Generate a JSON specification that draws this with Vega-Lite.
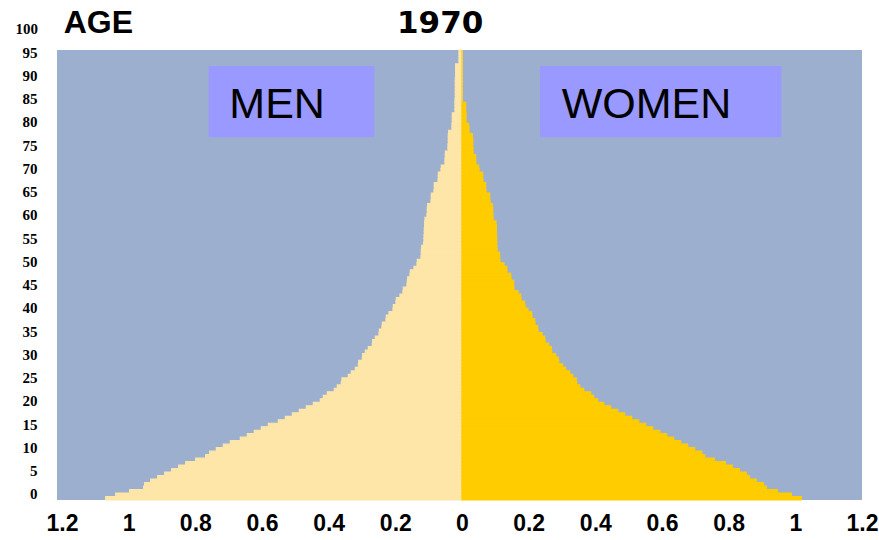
{
  "$schema": "https://vega.github.io/schema/vega-lite/v6.json",
  "width": 805,
  "height": 450,
  "autosize": {"type": "none"},
  "padding": {"left": 57, "top": 50, "right": 17, "bottom": 40},
  "background": "white",
  "config": {"view": {"fill": "#9CAFCF", "stroke": null}},
  "datasets": {
    "pyramid": [
      {"row":0,"sex":"Men","value":-1.069},{"row":1,"sex":"Men","value":-1.039},{"row":2,"sex":"Men","value":-0.997},{"row":3,"sex":"Men","value":-0.955},{"row":4,"sex":"Men","value":-0.952},
      {"row":5,"sex":"Men","value":-0.934},{"row":6,"sex":"Men","value":-0.913},{"row":7,"sex":"Men","value":-0.892},{"row":8,"sex":"Men","value":-0.871},{"row":9,"sex":"Men","value":-0.850},
      {"row":10,"sex":"Men","value":-0.829},{"row":11,"sex":"Men","value":-0.799},{"row":12,"sex":"Men","value":-0.769},{"row":13,"sex":"Men","value":-0.757},{"row":14,"sex":"Men","value":-0.737},
      {"row":15,"sex":"Men","value":-0.716},{"row":16,"sex":"Men","value":-0.695},{"row":17,"sex":"Men","value":-0.665},{"row":18,"sex":"Men","value":-0.644},{"row":19,"sex":"Men","value":-0.623},
      {"row":20,"sex":"Men","value":-0.602},{"row":21,"sex":"Men","value":-0.581},{"row":22,"sex":"Men","value":-0.551},{"row":23,"sex":"Men","value":-0.530},{"row":24,"sex":"Men","value":-0.509},
      {"row":25,"sex":"Men","value":-0.488},{"row":26,"sex":"Men","value":-0.467},{"row":27,"sex":"Men","value":-0.446},{"row":28,"sex":"Men","value":-0.425},{"row":29,"sex":"Men","value":-0.416},
      {"row":30,"sex":"Men","value":-0.404},{"row":31,"sex":"Men","value":-0.383},{"row":32,"sex":"Men","value":-0.374},{"row":33,"sex":"Men","value":-0.362},{"row":34,"sex":"Men","value":-0.360},
      {"row":35,"sex":"Men","value":-0.341},{"row":36,"sex":"Men","value":-0.332},{"row":37,"sex":"Men","value":-0.320},{"row":38,"sex":"Men","value":-0.311},{"row":39,"sex":"Men","value":-0.310},
      {"row":40,"sex":"Men","value":-0.299},{"row":41,"sex":"Men","value":-0.298},{"row":42,"sex":"Men","value":-0.290},{"row":43,"sex":"Men","value":-0.281},{"row":44,"sex":"Men","value":-0.269},
      {"row":45,"sex":"Men","value":-0.268},{"row":46,"sex":"Men","value":-0.260},{"row":47,"sex":"Men","value":-0.249},{"row":48,"sex":"Men","value":-0.248},{"row":49,"sex":"Men","value":-0.240},
      {"row":50,"sex":"Men","value":-0.239},{"row":51,"sex":"Men","value":-0.228},{"row":52,"sex":"Men","value":-0.227},{"row":53,"sex":"Men","value":-0.219},{"row":54,"sex":"Men","value":-0.207},
      {"row":55,"sex":"Men","value":-0.206},{"row":56,"sex":"Men","value":-0.198},{"row":57,"sex":"Men","value":-0.197},{"row":58,"sex":"Men","value":-0.186},{"row":59,"sex":"Men","value":-0.177},
      {"row":60,"sex":"Men","value":-0.176},{"row":61,"sex":"Men","value":-0.165},{"row":62,"sex":"Men","value":-0.164},{"row":63,"sex":"Men","value":-0.163},{"row":64,"sex":"Men","value":-0.156},
      {"row":65,"sex":"Men","value":-0.155},{"row":66,"sex":"Men","value":-0.144},{"row":67,"sex":"Men","value":-0.135},{"row":68,"sex":"Men","value":-0.134},{"row":69,"sex":"Men","value":-0.123},
      {"row":70,"sex":"Men","value":-0.122},{"row":71,"sex":"Men","value":-0.122},{"row":72,"sex":"Men","value":-0.121},{"row":73,"sex":"Men","value":-0.115},{"row":74,"sex":"Men","value":-0.114},
      {"row":75,"sex":"Men","value":-0.114},{"row":76,"sex":"Men","value":-0.113},{"row":77,"sex":"Men","value":-0.113},{"row":78,"sex":"Men","value":-0.112},{"row":79,"sex":"Men","value":-0.112},
      {"row":80,"sex":"Men","value":-0.111},{"row":81,"sex":"Men","value":-0.105},{"row":82,"sex":"Men","value":-0.104},{"row":83,"sex":"Men","value":-0.104},{"row":84,"sex":"Men","value":-0.103},
      {"row":85,"sex":"Men","value":-0.093},{"row":86,"sex":"Men","value":-0.092},{"row":87,"sex":"Men","value":-0.092},{"row":88,"sex":"Men","value":-0.084},{"row":89,"sex":"Men","value":-0.083},
      {"row":90,"sex":"Men","value":-0.083},{"row":91,"sex":"Men","value":-0.072},{"row":92,"sex":"Men","value":-0.071},{"row":93,"sex":"Men","value":-0.071},{"row":94,"sex":"Men","value":-0.063},
      {"row":95,"sex":"Men","value":-0.062},{"row":96,"sex":"Men","value":-0.051},{"row":97,"sex":"Men","value":-0.051},{"row":98,"sex":"Men","value":-0.050},{"row":99,"sex":"Men","value":-0.050},
      {"row":100,"sex":"Men","value":-0.042},{"row":101,"sex":"Men","value":-0.042},{"row":102,"sex":"Men","value":-0.041},{"row":103,"sex":"Men","value":-0.041},{"row":104,"sex":"Men","value":-0.041},
      {"row":105,"sex":"Men","value":-0.040},{"row":106,"sex":"Men","value":-0.030},{"row":107,"sex":"Men","value":-0.030},{"row":108,"sex":"Men","value":-0.029},{"row":109,"sex":"Men","value":-0.029},
      {"row":110,"sex":"Men","value":-0.029},{"row":111,"sex":"Men","value":-0.021},{"row":112,"sex":"Men","value":-0.021},{"row":113,"sex":"Men","value":-0.021},{"row":114,"sex":"Men","value":-0.021},
      {"row":115,"sex":"Men","value":-0.020},{"row":116,"sex":"Men","value":-0.020},{"row":117,"sex":"Men","value":-0.020},{"row":118,"sex":"Men","value":-0.020},{"row":119,"sex":"Men","value":-0.020},
      {"row":120,"sex":"Men","value":-0.020},{"row":121,"sex":"Men","value":-0.019},{"row":122,"sex":"Men","value":-0.019},{"row":123,"sex":"Men","value":-0.019},{"row":124,"sex":"Men","value":-0.019},
      {"row":125,"sex":"Men","value":-0.009},{"row":126,"sex":"Men","value":-0.009},{"row":127,"sex":"Men","value":-0.009},{"row":128,"sex":"Men","value":-0.009},
      {"row":0,"sex":"Women","value":1.018},{"row":1,"sex":"Women","value":0.988},{"row":2,"sex":"Women","value":0.946},{"row":3,"sex":"Women","value":0.913},{"row":4,"sex":"Women","value":0.904},
      {"row":5,"sex":"Women","value":0.883},{"row":6,"sex":"Women","value":0.862},{"row":7,"sex":"Women","value":0.853},{"row":8,"sex":"Women","value":0.832},{"row":9,"sex":"Women","value":0.811},
      {"row":10,"sex":"Women","value":0.790},{"row":11,"sex":"Women","value":0.757},{"row":12,"sex":"Women","value":0.728},{"row":13,"sex":"Women","value":0.719},{"row":14,"sex":"Women","value":0.698},
      {"row":15,"sex":"Women","value":0.677},{"row":16,"sex":"Women","value":0.656},{"row":17,"sex":"Women","value":0.635},{"row":18,"sex":"Women","value":0.614},{"row":19,"sex":"Women","value":0.593},
      {"row":20,"sex":"Women","value":0.572},{"row":21,"sex":"Women","value":0.551},{"row":22,"sex":"Women","value":0.530},{"row":23,"sex":"Women","value":0.509},{"row":24,"sex":"Women","value":0.488},
      {"row":25,"sex":"Women","value":0.467},{"row":26,"sex":"Women","value":0.446},{"row":27,"sex":"Women","value":0.425},{"row":28,"sex":"Women","value":0.407},{"row":29,"sex":"Women","value":0.395},
      {"row":30,"sex":"Women","value":0.386},{"row":31,"sex":"Women","value":0.365},{"row":32,"sex":"Women","value":0.353},{"row":33,"sex":"Women","value":0.344},{"row":34,"sex":"Women","value":0.343},
      {"row":35,"sex":"Women","value":0.332},{"row":36,"sex":"Women","value":0.323},{"row":37,"sex":"Women","value":0.311},{"row":38,"sex":"Women","value":0.302},{"row":39,"sex":"Women","value":0.290},
      {"row":40,"sex":"Women","value":0.289},{"row":41,"sex":"Women","value":0.281},{"row":42,"sex":"Women","value":0.269},{"row":43,"sex":"Women","value":0.268},{"row":44,"sex":"Women","value":0.260},
      {"row":45,"sex":"Women","value":0.249},{"row":46,"sex":"Women","value":0.248},{"row":47,"sex":"Women","value":0.240},{"row":48,"sex":"Women","value":0.228},{"row":49,"sex":"Women","value":0.227},
      {"row":50,"sex":"Women","value":0.219},{"row":51,"sex":"Women","value":0.218},{"row":52,"sex":"Women","value":0.210},{"row":53,"sex":"Women","value":0.209},{"row":54,"sex":"Women","value":0.198},
      {"row":55,"sex":"Women","value":0.189},{"row":56,"sex":"Women","value":0.188},{"row":57,"sex":"Women","value":0.177},{"row":58,"sex":"Women","value":0.176},{"row":59,"sex":"Women","value":0.168},
      {"row":60,"sex":"Women","value":0.156},{"row":61,"sex":"Women","value":0.155},{"row":62,"sex":"Women","value":0.155},{"row":63,"sex":"Women","value":0.147},{"row":64,"sex":"Women","value":0.146},
      {"row":65,"sex":"Women","value":0.135},{"row":66,"sex":"Women","value":0.134},{"row":67,"sex":"Women","value":0.126},{"row":68,"sex":"Women","value":0.114},{"row":69,"sex":"Women","value":0.113},
      {"row":70,"sex":"Women","value":0.113},{"row":71,"sex":"Women","value":0.105},{"row":72,"sex":"Women","value":0.105},{"row":73,"sex":"Women","value":0.104},{"row":74,"sex":"Women","value":0.104},
      {"row":75,"sex":"Women","value":0.104},{"row":76,"sex":"Women","value":0.103},{"row":77,"sex":"Women","value":0.103},{"row":78,"sex":"Women","value":0.103},{"row":79,"sex":"Women","value":0.102},
      {"row":80,"sex":"Women","value":0.093},{"row":81,"sex":"Women","value":0.093},{"row":82,"sex":"Women","value":0.092},{"row":83,"sex":"Women","value":0.092},{"row":84,"sex":"Women","value":0.091},
      {"row":85,"sex":"Women","value":0.084},{"row":86,"sex":"Women","value":0.083},{"row":87,"sex":"Women","value":0.083},{"row":88,"sex":"Women","value":0.072},{"row":89,"sex":"Women","value":0.071},
      {"row":90,"sex":"Women","value":0.071},{"row":91,"sex":"Women","value":0.063},{"row":92,"sex":"Women","value":0.062},{"row":93,"sex":"Women","value":0.062},{"row":94,"sex":"Women","value":0.051},
      {"row":95,"sex":"Women","value":0.050},{"row":96,"sex":"Women","value":0.042},{"row":97,"sex":"Women","value":0.041},{"row":98,"sex":"Women","value":0.041},{"row":99,"sex":"Women","value":0.033},
      {"row":100,"sex":"Women","value":0.033},{"row":101,"sex":"Women","value":0.032},{"row":102,"sex":"Women","value":0.032},{"row":103,"sex":"Women","value":0.032},{"row":104,"sex":"Women","value":0.031},
      {"row":105,"sex":"Women","value":0.021},{"row":106,"sex":"Women","value":0.021},{"row":107,"sex":"Women","value":0.020},{"row":108,"sex":"Women","value":0.012},{"row":109,"sex":"Women","value":0.012},
      {"row":110,"sex":"Women","value":0.012},{"row":111,"sex":"Women","value":0.011},{"row":112,"sex":"Women","value":0.011},{"row":113,"sex":"Women","value":0.011},{"row":114,"sex":"Women","value":0},
      {"row":115,"sex":"Women","value":0},{"row":116,"sex":"Women","value":0},{"row":117,"sex":"Women","value":0},{"row":118,"sex":"Women","value":0},{"row":119,"sex":"Women","value":0},
      {"row":120,"sex":"Women","value":0},{"row":121,"sex":"Women","value":0},{"row":122,"sex":"Women","value":0},{"row":123,"sex":"Women","value":0},{"row":124,"sex":"Women","value":0},
      {"row":125,"sex":"Women","value":0},{"row":126,"sex":"Women","value":0},{"row":127,"sex":"Women","value":0},{"row":128,"sex":"Women","value":0}
    ]
  },
  "layer": [
    {
      "data": {"name": "pyramid"},
      "mark": {"type": "bar", "strokeWidth": 1.2},
      "encoding": {
        "y": {"field": "row", "type": "ordinal", "sort": "descending", "axis": null,
              "scale": {"paddingInner": 0, "paddingOuter": 0}},
        "x": {"field": "value", "type": "quantitative",
              "scale": {"domain": [-1.215, 1.2], "nice": false, "zero": false},
              "axis": {"values": [-1.2, -1, -0.8, -0.6, -0.4, -0.2, 0, 0.2, 0.4, 0.6, 0.8, 1, 1.2],
                       "tickCount": 20,
                       "labelExpr": "'' + abs(datum.value)", "title": null, "grid": false,
                       "domain": false, "ticks": false, "labelPadding": 12,
                       "labelFont": "Liberation Sans", "labelFontWeight": "bold", "labelFontSize": 23,
                       "labelColor": "#000000", "labelBaseline": "top", "labelFlush": false, "labelOverlap": false}},
        "color": {"field": "sex", "type": "nominal", "legend": null,
                  "scale": {"domain": ["Men", "Women"], "range": ["#FEE6A8", "#FFCC00"]}},
        "stroke": {"field": "sex", "type": "nominal", "legend": null,
                  "scale": {"domain": ["Men", "Women"], "range": ["#FEE6A8", "#FFCC00"]}}
      }
    },
    {
      "data": {"values": [{}]},
      "layer": [
        {
          "mark": {"type": "rect", "fill": "#9999FF"},
          "encoding": {
            "x": {"datum": -0.76, "type": "quantitative"},
            "x2": {"datum": -0.263},
            "y": {"datum": 92.0, "type": "quantitative",
                  "scale": {"domain": [-1.29, 95.43], "nice": false, "zero": false},
                  "axis": {"orient": "left", "values": [0, 5, 10, 15, 20, 25, 30, 35, 40, 45, 50, 55, 60, 65, 70, 75, 80, 85, 90, 95],
                           "tickCount": 30,
                           "title": null, "grid": false, "domain": false, "ticks": false, "labelPadding": 20,
                           "labelFont": "Liberation Serif", "labelFontWeight": "bold", "labelFontSize": 15,
                           "labelColor": "#000000", "labelBaseline": "middle", "labelFlush": false, "labelOverlap": false}},
            "y2": {"datum": 76.7}
          }
        },
        {
          "mark": {"type": "rect", "fill": "#9999FF"},
          "encoding": {
            "x": {"datum": 0.234, "type": "quantitative"},
            "x2": {"datum": 0.958},
            "y": {"datum": 92.0, "type": "quantitative"},
            "y2": {"datum": 76.7}
          }
        },
        {
          "mark": {"type": "text", "text": "MEN", "align": "left", "baseline": "alphabetic",
                   "font": "Liberation Sans", "fontSize": 43, "color": "#000000"},
          "encoding": {"x": {"datum": -0.698, "type": "quantitative"}, "y": {"datum": 80.8, "type": "quantitative"}}
        },
        {
          "mark": {"type": "text", "text": "WOMEN", "align": "left", "baseline": "alphabetic",
                   "font": "Liberation Sans", "fontSize": 43, "color": "#000000"},
          "encoding": {"x": {"datum": 0.299, "type": "quantitative"}, "y": {"datum": 80.8, "type": "quantitative"}}
        },
        {
          "mark": {"type": "text", "text": "AGE", "align": "left", "baseline": "alphabetic",
                   "font": "Liberation Sans", "fontWeight": "bold", "fontSize": 32, "color": "#000000"},
          "encoding": {"x": {"datum": -1.195, "type": "quantitative"}, "y": {"datum": 99.1, "type": "quantitative"}}
        },
        {
          "mark": {"type": "text", "text": "1970", "align": "left", "baseline": "alphabetic",
                   "font": "DejaVu Sans", "fontWeight": "bold", "fontSize": 31, "color": "#000000"},
          "encoding": {"x": {"datum": -0.195, "type": "quantitative"}, "y": {"datum": 99.1, "type": "quantitative"}}
        },
        {
          "mark": {"type": "text", "text": "100", "align": "right", "baseline": "middle",
                   "font": "Liberation Serif", "fontWeight": "bold", "fontSize": 15, "color": "#000000"},
          "encoding": {"x": {"datum": -1.272, "type": "quantitative"}, "y": {"datum": 100, "type": "quantitative"}}
        }
      ]
    }
  ],
  "resolve": {"scale": {"y": "independent"}}
}
